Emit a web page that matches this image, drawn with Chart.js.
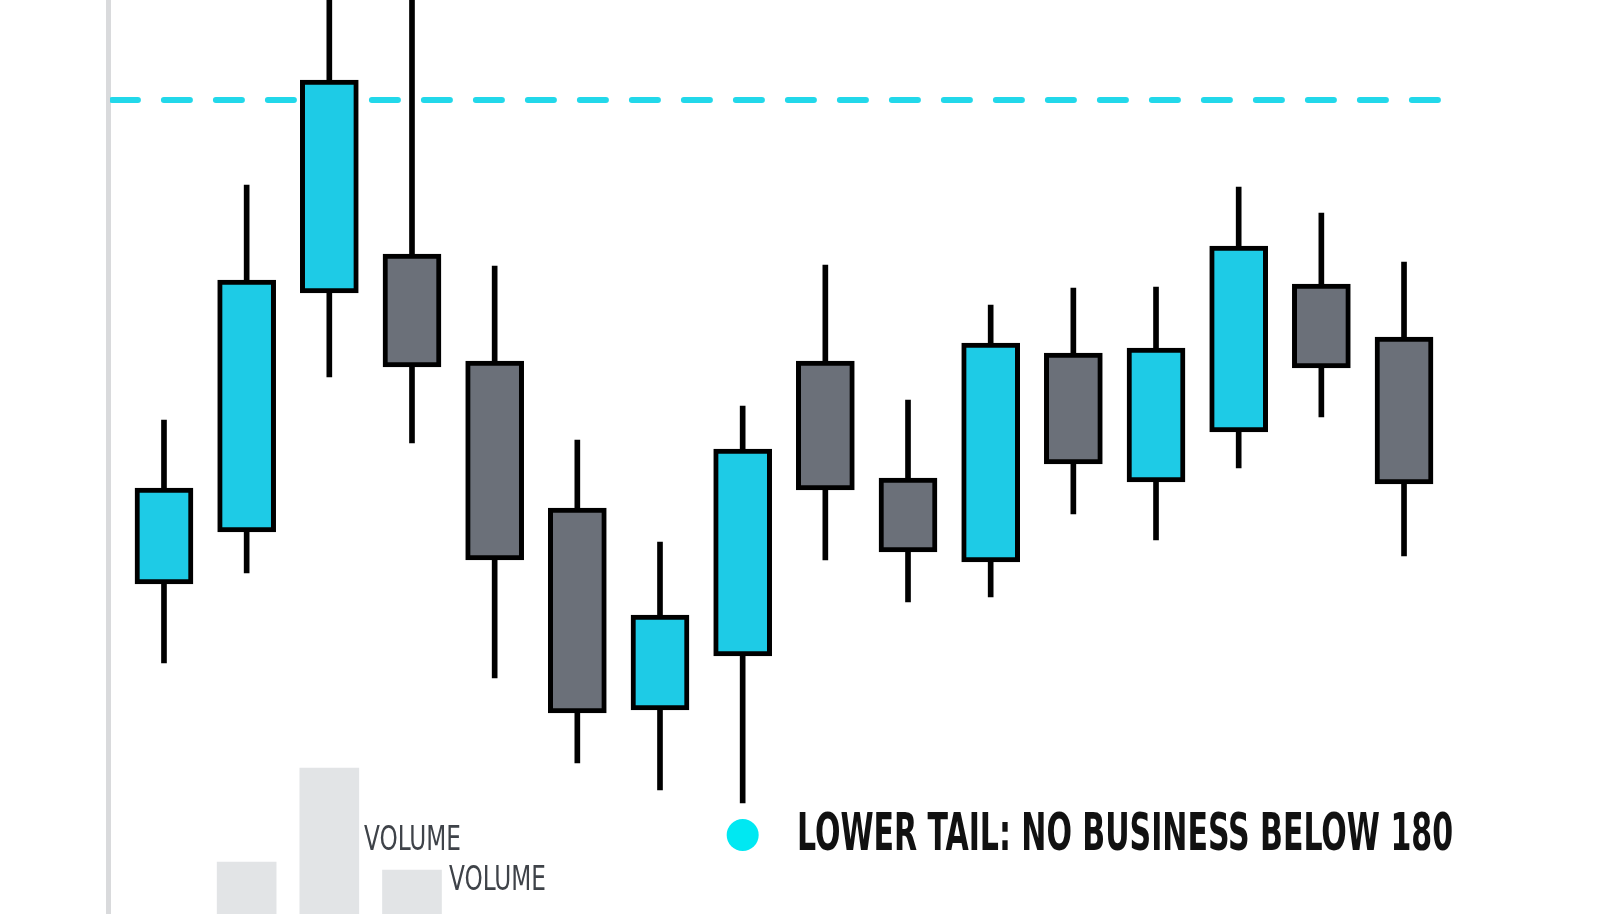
<!DOCTYPE html>
<html><head><meta charset="utf-8">
<script src="https://cdn.jsdelivr.net/npm/chart.js@4"></script>
<style>html,body{margin:0;padding:0;background:#fff}#w{width:1600px;height:914px}</style>
</head><body><div id="w"><canvas id="c"></canvas></div>
<script>
const idx = [1,2,3,4,5,6,7,8,9,10,11,12,13,14,15,16];
const opens  = [201.6,206.8,230.7,234.6,223.9,209.2,189.0,194.4,223.9,212.2,203.8,224.7,211.8,216.8,231.6,226.3];
const closes = [211.2,232.0,252.0,223.3,204.0,188.7,198.5,215.1,211.0,204.8,225.7,213.6,225.2,235.4,223.2,211.6];
const highs  = [218.0,241.5,265.0,265.0,233.4,216.0,205.8,219.4,233.5,220.0,229.5,231.2,231.3,241.3,238.7,233.8];
const lows   = [193.7,202.7,222.3,215.7,192.2,183.7,181.0,179.7,204.0,199.8,200.3,208.6,206.0,213.2,218.3,204.4];
const volIdx = [2,3,4];
const volumes = [52,146,44];
const resistance = 250;
const markerPrice = 176.5, markerIdx = 8;

const CYAN='#1ecbe6', GRAY='#6b7079';
const up = opens.map((o,i)=>closes[i]>=o);
const txt = {id:'txt',
  beforeDatasetsDraw(ch){const a=ch.chartArea,c=ch.ctx;c.save();c.fillStyle='#d9dadc';c.fillRect(a.left-4,0,5,914);c.restore();},
  afterDraw(ch){const c=ch.ctx;c.save();c.textBaseline='middle';
    c.fillStyle='#3f4349';c.font='34px "DejaVu Sans Condensed"';
    c.fillText('VOLUME',364,841,97);c.fillText('VOLUME',449,881,97);
    c.fillStyle='#111';c.font='bold 52px "DejaVu Sans Condensed"';
    c.fillText('LOWER TAIL: NO BUSINESS BELOW 180',797,836,656);c.restore();}};
new Chart(document.getElementById('c'),{
  type:'bar',
  data:{datasets:[
    {type:'line',data:[{x:0.37,y:resistance},{x:16.62,y:resistance}],borderColor:'#22d8ea',borderWidth:6,borderCapStyle:'round',borderDash:[26,26],pointRadius:0,order:5},
    {data:volIdx.map((x,i)=>({x,y:volumes[i]})),yAxisID:'yv',backgroundColor:'#e2e4e6',barThickness:59,order:6,grouped:false},
    {data:idx.map((x,i)=>({x,y:[lows[i],highs[i]]})),backgroundColor:'#000',barThickness:5,order:3,grouped:false},
    {data:idx.map((x,i)=>({x,y:[opens[i],closes[i]]})),backgroundColor:up.map(u=>u?CYAN:GRAY),borderColor:'#000',borderWidth:5,borderSkipped:false,barThickness:58,order:2,grouped:false},
    {type:'scatter',data:[{x:markerIdx,y:markerPrice}],backgroundColor:'#00e8f2',pointRadius:16,borderWidth:0,order:1}
  ]},
  options:{responsive:true,maintainAspectRatio:false,animation:false,
    layout:{autoPadding:false,padding:{left:110,right:110,top:0,bottom:0}},
    plugins:{legend:{display:false},tooltip:{enabled:false}},
    scales:{
      x:{type:'linear',offset:false,min:0.347,max:17.04,display:false},
      y:{min:168.6,max:260,display:false},
      yv:{min:0,max:914,display:false}
    }},
  plugins:[txt]
});
</script></body></html>
